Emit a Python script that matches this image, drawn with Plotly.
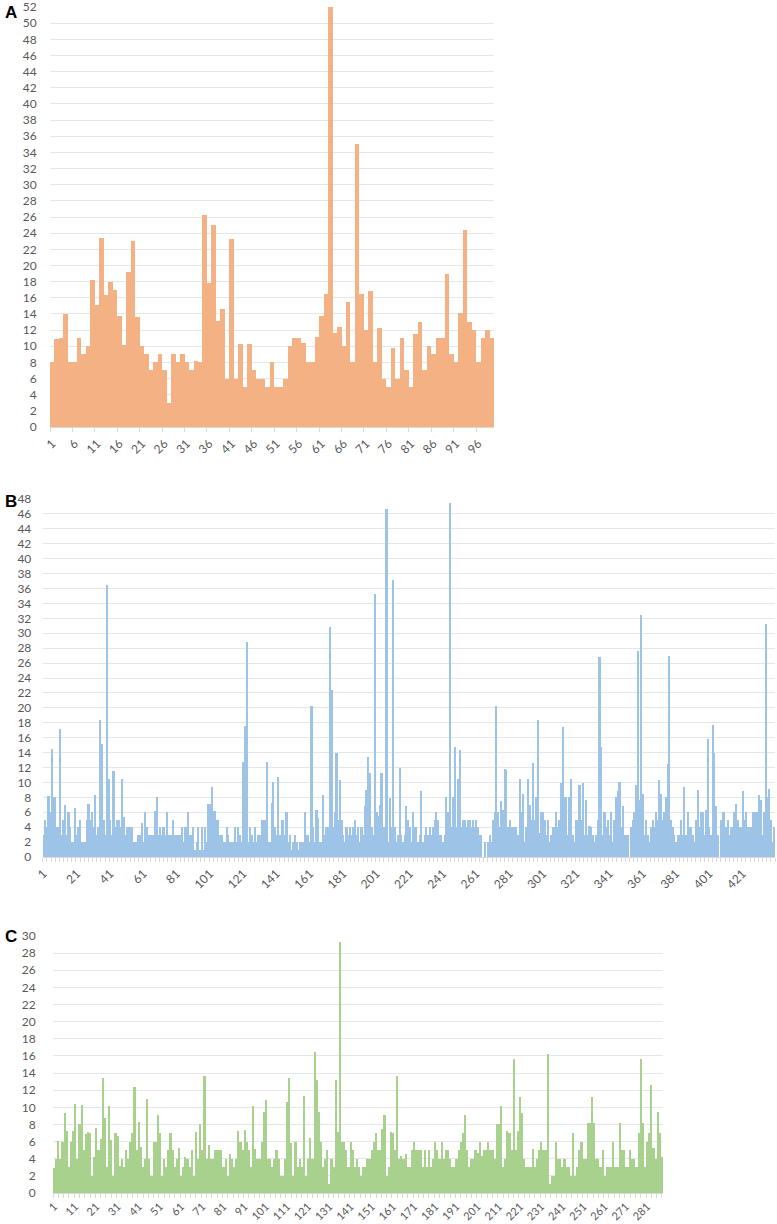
import plotly.graph_objects as go

# panel A: 99 categories
a_values = [8, 10.9, 11, 14, 8, 8, 11, 9, 10, 18.2,
            15.1, 23.4, 16.4, 17.9, 17, 13.8, 10.1, 19.2, 23, 13.6,
            10, 9, 7, 8, 9, 7, 3, 9, 8, 9,
            8, 7, 8.2, 8, 26.2, 17.8, 25, 13.1, 14.6, 6,
            23.3, 6, 10.3, 5, 10.3, 7, 6, 6, 5, 8,
            5, 5, 6, 10, 11, 11, 10.4, 8, 8, 11.1,
            13.7, 16.5, 52, 11.6, 12.4, 10, 15.5, 8, 35, 16.5,
            12, 16.9, 8, 12.3, 6, 5, 9.8, 6, 11, 7,
            5, 11.5, 13, 7, 10, 9, 11, 11, 19, 9,
            8, 14.1, 24.4, 13, 12, 8, 11, 12, 11]

# panel B: 440 categories
b_values = [3, 5, 4, 8.2, 6, 14.5, 8, 8, 4, 4,
            17.2, 3, 5, 7, 3, 6, 4, 2, 2, 6.6,
            3, 4, 5, 2, 2, 2, 5, 7.1, 5, 6,
            4, 8.3, 3, 4, 18.4, 15.1, 5, 3, 36.5, 10.4,
            5, 3, 11.5, 4, 5, 5, 4, 10.5, 5.4, 3,
            4, 4, 4, 4, 2, 2, 2, 3, 3, 4.6,
            2, 6, 4, 3, 3, 3, 3, 6.2, 8.1, 3,
            4, 3, 4, 3, 6, 3, 3, 3, 5, 3,
            3, 3, 3, 4, 2, 4, 4, 6, 3, 3,
            4, 1, 2, 4, 1, 4, 1, 4, 2, 7.1,
            7.1, 9.4, 6.2, 6.2, 5, 5, 3, 3, 2, 2,
            4, 3, 2, 2, 2, 4, 2, 4, 3, 2,
            12.7, 17.6, 28.8, 2, 4, 3, 2, 4, 2, 3,
            3,
            5, 5, 5, 12.8, 2, 2, 7.2, 10, 4, 3,
            10.7, 3, 5, 5, 3, 6, 2, 3, 1, 2,
            3, 2, 1, 2, 2, 2, 6.1, 3, 3, 2,
            20.3, 4, 2, 6.3, 5.2, 2, 2, 8.3, 3, 4,
            4, 30.9, 22.4, 4, 6, 14, 5, 10.3, 5, 3,
            2, 4, 3, 4, 3, 4, 5, 3, 4, 2,
            4, 3, 6.9, 9, 13.4, 11.2, 4, 3, 35.3, 6,
            5.5, 7, 11.3, 4, 4, 46.7, 2, 7.9, 4, 37.1,
            4, 2, 3, 12, 3, 2, 3, 6.9, 5, 4,
            2, 6, 4, 4, 2, 3, 8.9, 2, 3, 4,
            3, 4, 3, 4, 5, 6, 5, 3, 3, 2,
            3, 8, 6, 47.5, 4, 8, 14.8, 4, 10.4, 14.4,
            4, 5, 5, 4, 5, 5, 4, 5, 4, 5,
            4, 3, 3, 0, 2, 0, 2, 3, 2, 5,
            6, 20.2, 6, 4, 7.5, 6.3, 11.8, 11.7, 4, 5,
            4, 4, 4, 4, 3, 10.5, 6,
            8.4, 2, 4, 10.4, 7, 5, 12.6, 5, 8, 18.4,
            3.2, 6, 6, 5, 3, 5, 2, 3, 4, 4,
            6, 4, 5, 9.9, 17.4, 8.1, 8, 3, 8, 10.4,
            3, 2, 5, 5, 9.7, 5, 9.9, 3, 7.7, 3,
            4.1, 4, 3, 2, 3, 5, 26.8, 14.8, 3, 6,
            4, 5, 3, 6, 2, 5, 8, 8.8, 10, 4,
            6.9, 3, 3, 3, 0, 4, 5, 6, 9.6, 27.6,
            7.7, 32.4, 8.5, 3, 5, 3, 2, 4, 5, 4,
            6, 5, 10.3, 8.5, 5, 6, 8, 12.5, 27, 5,
            4, 3, 2, 3, 3, 5, 3, 9.4, 3, 6,
            4, 4, 3, 2, 5, 9, 4, 6, 6, 3,
            6.3, 15.8, 4, 3, 17.7, 14, 6.9, 3, 0, 5,
            6, 6, 4, 5, 3, 4, 4, 6, 7.1, 5,
            4, 4, 8.9, 5, 6, 4, 4, 4, 6, 6,
            6, 6, 8.3, 7.7, 3, 6, 31.3, 8.1, 9.1, 5,
            2, 4]

# panel C: 288 categories
c_values = [2.9, 4, 6.1, 4, 6, 9.3, 7.2, 3, 6, 7.2,
            10.4, 4, 8, 10.3, 5, 6.9, 7.1, 7, 2, 4.2,
            7.6, 5, 6.3, 13.4, 8.7, 3, 10.2, 6.2, 2, 7,
            6.6, 3.2, 4, 3, 5, 4, 6, 7, 12.4, 5,
            8.3, 5.4, 3, 4, 11, 4, 2, 6, 6, 9.1,
            7, 2, 4, 3, 5, 7, 5, 3, 4, 5.2,
            2, 3, 4.2, 4, 3, 5, 2, 7.1, 4, 8,
            5, 13.6, 4, 5.6, 4, 4, 5, 5, 5, 5,
            3, 4, 2, 4.6, 4, 3, 4, 7.2, 6, 5,
            7.3, 6, 5, 3, 10.2, 5.1, 4, 4, 6, 9.4,
            10.9, 4, 4, 3, 4, 5, 4, 2, 2, 4,
            10.6, 13.4, 5.8, 2, 6, 3, 4, 3, 11.3, 2,
            4, 6.4, 4, 16.5, 13.2, 9.4, 6, 3, 4, 5,
            1, 4, 3, 13.2, 7.1, 29.3, 6, 6, 5, 3,
            6, 5, 3, 4, 3, 2, 3, 3, 4, 4,
            5, 6, 7, 5, 5, 7.5, 9.1, 2, 3, 7.1,
            7, 5, 13.7, 4, 4.3, 4, 4.5, 3, 3, 5,
            6, 5, 5, 5, 3, 5, 3, 5, 3, 4,
            6, 5, 4, 6, 4, 5, 5, 4, 3, 3,
            4, 5, 6, 7, 9.1, 5, 3, 4, 4, 5,
            4.7, 6, 4.3, 5, 5, 6, 5, 5, 4, 8,
            8, 10.1, 3, 4, 7.2, 7, 5, 15.6, 5, 7.2,
            11.2, 9.3, 4, 3, 3, 3, 5.1, 3, 4, 5,
            6, 5, 5, 16.2, 1, 2, 2, 6, 4, 4,
            3, 4, 3, 3, 2, 7, 2, 3, 5, 6,
            4, 4, 8.2, 8.2, 11.2, 8.2, 4, 4, 3, 5,
            2, 3, 3, 3, 6, 3, 3, 8.2, 5, 5,
            3, 3, 5, 4, 4, 3, 7, 15.6, 8.2, 3,
            6, 7, 12.6, 5.2, 4, 9.4, 7, 4.2]

a_x = list(range(1, len(a_values) + 1))
b_x = list(range(1, len(b_values) + 1))
c_x = list(range(1, len(c_values) + 1))

a_ticks = list(range(1, 97, 5))
b_ticks = list(range(1, 422, 20))
c_ticks = list(range(1, 282, 10))

W, H = 777, 1224


def px(x):
    return x / W


def py(y):
    return 1 - y / H


tick_font = dict(family="Lato, Open Sans, sans-serif", size=12, color="#595959")
small_font = dict(tick_font, size=11)
grid = "#e3e7ec"

fig = go.Figure()
fig.add_trace(go.Bar(x=a_x, y=a_values, marker_color="#F4B183",
                     marker_line_width=0, xaxis="x", yaxis="y"))
fig.add_trace(go.Bar(x=b_x, y=b_values, marker_color="#9DC3E6",
                     marker_line_width=0, xaxis="x2", yaxis="y2"))
fig.add_trace(go.Bar(x=c_x, y=c_values, marker_color="#A9D18E",
                     marker_line_width=0, xaxis="x3", yaxis="y3"))


def xax(dom, n, ticks, anchor, mstep, font, gap):
    return dict(domain=dom, anchor=anchor, range=[0.5, n + 0.5],
                tickmode="array", tickvals=ticks, tickangle=-45,
                tickfont=font, showgrid=False, zeroline=False,
                showline=True, linecolor="#d9d9d9", linewidth=1,
                ticks="outside", ticklen=gap, tickcolor="rgba(0,0,0,0)",
                minor=dict(ticks="outside", tickmode="linear", tick0=0.5,
                           dtick=mstep, ticklen=4, tickcolor="#d9d9d9",
                           showgrid=False),
                ticklabeloverflow="allow", automargin=False, fixedrange=True)


def yax(dom, top, anchor, standoff):
    return dict(domain=dom, anchor=anchor, range=[0, top], dtick=2,
                tick0=0, tickfont=tick_font, showgrid=True,
                gridcolor=grid, gridwidth=1, zeroline=False,
                showline=False, ticks="outside", ticklen=standoff,
                tickcolor="rgba(0,0,0,0)", ticklabeloverflow="allow",
                automargin=False, fixedrange=True)


fig.update_layout(
    width=W, height=H,
    margin=dict(l=0, r=0, t=0, b=0),
    paper_bgcolor="white", plot_bgcolor="white",
    showlegend=False, bargap=0,
    xaxis=xax([px(50), px(494)], len(a_values), a_ticks, "y", 5, tick_font, 4),
    yaxis=yax([py(427), py(7)], 52, "x", 10),
    xaxis2=xax([px(42.7), px(775)], len(b_values), b_ticks, "y2", 2.5,
               tick_font, 4),
    yaxis2=yax([py(857), py(499)], 48, "x2", 8),
    xaxis3=xax([px(53), px(663)], len(c_values), c_ticks, "y3", 2.5,
               small_font, 2),
    yaxis3=yax([py(1193), py(936)], 30, "x3", 14),
)

for label, yp in [("A", 13), ("B", 501), ("C", 937)]:
    fig.add_annotation(text="<b>%s</b>" % label, xref="paper", yref="paper",
                       x=px(3), y=py(yp), xanchor="left", yanchor="middle",
                       showarrow=False,
                       font=dict(family="Liberation Sans, Arial", size=17,
                                 color="black"))

# drop the browser's default 8px body margin so the figure fills the window
fig.write_html("out.html", config={"displayModeBar": False},
               post_script="document.body.style.margin = '0';")
